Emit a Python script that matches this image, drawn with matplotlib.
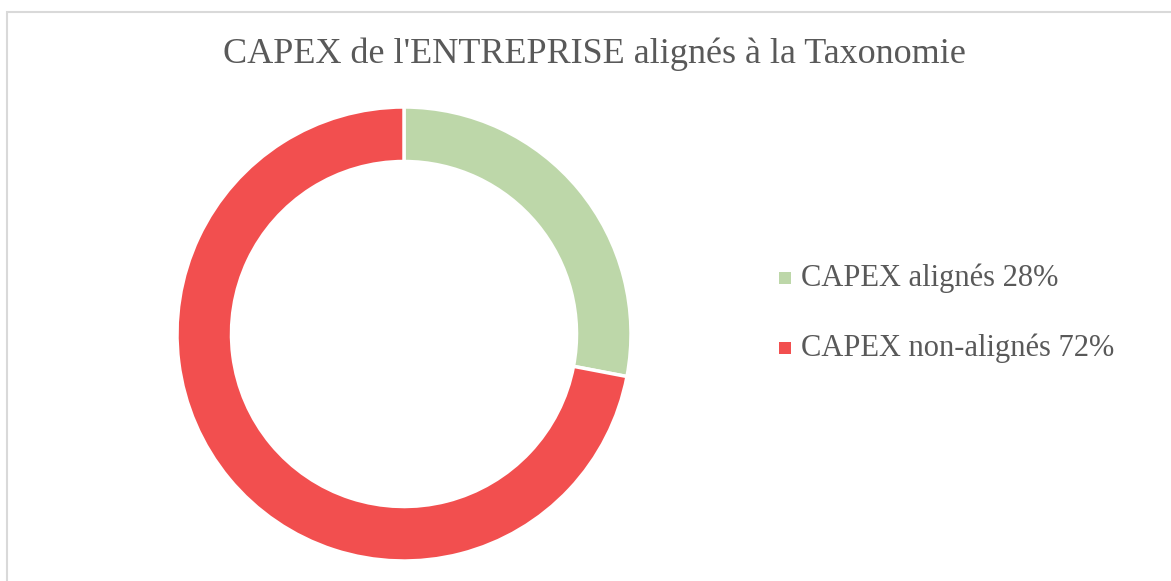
import matplotlib.pyplot as plt
from matplotlib.patches import Rectangle

labels = ['CAPEX alignés 28%', 'CAPEX non-alignés 72%']
valeurs = [28, 72]
couleurs = ['#BDD7A9', '#F24F4F']
titre = "CAPEX de l'ENTREPRISE alignés à la Taxonomie"

W, H = 1171, 581
fig = plt.figure(figsize=(W / 100, H / 100), dpi=100)
fig.patch.set_facecolor('white')

# cadre du graphique
fig.patches.append(Rectangle((6.5 / W, -0.1), 1.2, (H - 11.5) / H + 0.1,
                             transform=fig.transFigure, fill=False,
                             edgecolor='#D9D9D9', linewidth=1.5))

# donut
cx, cy, r = 404, 334, 227
ax = fig.add_axes([(cx - r) / W, (H - cy - r) / H, 2 * r / W, 2 * r / H])
wedges, _ = ax.pie(valeurs, colors=couleurs, startangle=90, counterclock=False,
                   radius=1.0, wedgeprops=dict(width=0.24, edgecolor='white', linewidth=2.5))
ax.set_xlim(-1, 1)
ax.set_ylim(-1, 1)
ax.set_aspect('equal')
ax.axis('off')

fig.text(594 / W, 1 - 54 / H, titre, ha='center', va='center',
         fontsize=26, color='#595959', family='Liberation Serif')

# legende
for i, lab in enumerate(labels):
    y = 1 - (278 + i * 70) / H
    fig.patches.append(Rectangle((779 / W, y - 6 / H), 12 / W, 12 / H,
                                 transform=fig.transFigure, facecolor=couleurs[i],
                                 edgecolor='none'))
    fig.text(801 / W, y, lab, ha='left', va='center', fontsize=22,
             color='#595959', family='Liberation Serif')

fig.savefig('out.png', dpi=100, facecolor='white')
